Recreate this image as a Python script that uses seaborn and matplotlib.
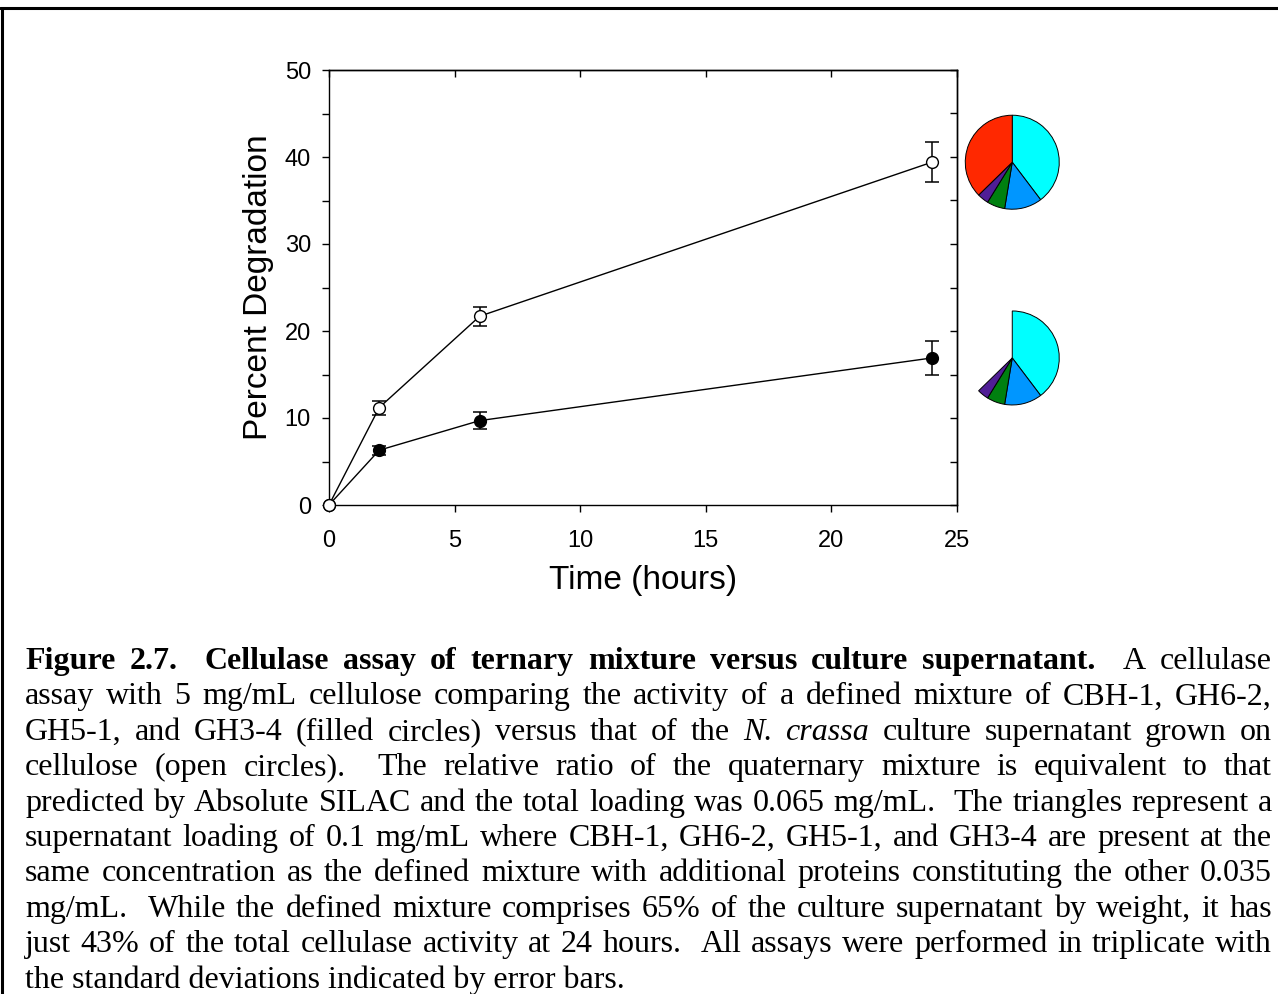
import matplotlib
matplotlib.use("Agg")
import matplotlib.pyplot as plt
from matplotlib.lines import Line2D
from matplotlib.ticker import MultipleLocator
from matplotlib.font_manager import FontProperties
import seaborn as sns

# Cellulose degradation over time (mean of triplicates, with standard deviations)
hours = [0, 2, 6, 24]
supernatant_pct = [0.0, 11.2, 21.7, 39.4]
supernatant_sd = [0.0, 0.8, 1.1, 2.3]
mixture_pct = [0.0, 6.3, 9.7, 16.9]
mixture_sd = [0.0, 0.5, 1.0, 2.0]

# Protein composition (percent of supernatant loading by weight)
enzymes = ["CBH-1", "GH6-2", "GH5-1", "GH3-4", "Other proteins"]
composition = [39.7, 12.9, 6.2, 3.9, 37.3]
enzyme_colors = ["#00FFFF", "#0096FF", "#008010", "#501E96", "#FF2800"]

x_ticks = [0, 5, 10, 15, 20, 25]
y_ticks = [0, 10, 20, 30, 40, 50]

caption_lines = [
    [("Figure 2.7.  Cellulase assay of ternary mixture versus culture supernatant.", "bold"),
     (" A cellulase", "normal")],
    [("assay with 5 mg/mL cellulose comparing the activity of a defined mixture of CBH-1, GH6-2,", "normal")],
    [("GH5-1, and GH3-4 (filled circles) versus that of the", "normal"), ("N. crassa", "italic"),
     ("culture supernatant grown on", "normal")],
    [("cellulose (open circles).  The relative ratio of the quaternary mixture is equivalent to that", "normal")],
    [("predicted by Absolute SILAC and the total loading was 0.065 mg/mL.  The triangles represent a", "normal")],
    [("supernatant loading of 0.1 mg/mL where CBH-1, GH6-2, GH5-1, and GH3-4 are present at the", "normal")],
    [("same concentration as the defined mixture with additional proteins constituting the other 0.035", "normal")],
    [("mg/mL.  While the defined mixture comprises 65% of the culture supernatant by weight, it has", "normal")],
    [("just 43% of the total cellulase activity at 24 hours.  All assays were performed in triplicate with", "normal")],
]
caption_last = "the standard deviations indicated by error bars."

sns.set_theme(style="ticks")
plt.rcParams["font.family"] = ["Liberation Sans", "DejaVu Sans"]
plt.rcParams["axes.edgecolor"] = "black"
plt.rcParams["axes.linewidth"] = 1.0

W, H = 1278, 994
fig = plt.figure(figsize=(W / 100, H / 100), dpi=100)
fig.patch.set_facecolor("white")

ax = fig.add_axes([329 / W, 1 - 505 / H, (957 - 329) / W, (505 - 70) / H])
ax.set_facecolor("white")

# error bars first so the markers sit on top of them
for pct, sd in ((mixture_pct, mixture_sd), (supernatant_pct, supernatant_sd)):
    xs = [h for h, s in zip(hours, sd) if s > 0]
    ys = [p for p, s in zip(pct, sd) if s > 0]
    es = [s for s in sd if s > 0]
    ax.errorbar(xs, ys, yerr=es, fmt="none", ecolor="black", elinewidth=1.1,
                capsize=5, capthick=1.1, zorder=2)

sns.lineplot(x=hours, y=mixture_pct, ax=ax, color="black", linewidth=1.0,
             marker="o", markersize=8.5, markerfacecolor="black",
             markeredgecolor="black", markeredgewidth=1.0, zorder=3, clip_on=False)
sns.lineplot(x=hours, y=supernatant_pct, ax=ax, color="black", linewidth=1.0,
             marker="o", markersize=8.5, markerfacecolor="white",
             markeredgecolor="black", markeredgewidth=1.0, zorder=4, clip_on=False)

ax.set_xlim(0, 25)
ax.set_ylim(0, 50)
ax.set_xticks(x_ticks)
ax.set_yticks(y_ticks)
ax.yaxis.set_minor_locator(MultipleLocator(5))
ax.tick_params(axis="both", which="both", direction="out", length=5, width=1.0,
               color="black", labelcolor="black", labelsize=17)
ax.tick_params(axis="x", pad=13)
ax.tick_params(axis="y", pad=8)
for sp in ax.spines.values():
    sp.set_visible(True)
    sp.set_color("black")
    sp.set_linewidth(1.0)

ax.set_xlabel("Time (hours)", fontsize=24, color="black", labelpad=9)
ax.set_ylabel("Percent Degradation", fontsize=24, color="black", labelpad=7.5)

# inward ticks on the top and right edges
top = ax.secondary_xaxis("top")
top.set_xticks(x_ticks)
top.tick_params(direction="in", length=5, width=1.0, color="black", labeltop=False)
right = ax.secondary_yaxis("right")
right.set_yticks(list(range(0, 51, 5)))
right.tick_params(direction="in", length=5, width=1.0, color="black", labelright=False)

# composition pies beside the 24 h points
def composition_pie(y_value, show_other):
    cx, cy = ax.transData.transform((27.2, y_value))
    r = 47
    pax = fig.add_axes([(cx - r) / W, (cy - r) / H, 2 * r / W, 2 * r / H])
    wedges, _ = pax.pie(composition, colors=enzyme_colors, startangle=90,
                        counterclock=False,
                        wedgeprops=dict(edgecolor="black", linewidth=0.7))
    for w in wedges:
        w.set_clip_on(False)
    if not show_other:
        wedges[-1].set_visible(False)
    pax.set_xlim(-1, 1)
    pax.set_ylim(-1, 1)
    pax.set_aspect("equal")
    pax.axis("off")

composition_pie(supernatant_pct[-1], True)
composition_pie(mixture_pct[-1], False)

# frame lines along the top and left of the figure
fig.add_artist(Line2D([1.5 / W, 1.5 / W], [0, 1 - 8.3 / H], transform=fig.transFigure,
                      color="black", linewidth=2.2))
fig.add_artist(Line2D([0, 1], [1 - 8.3 / H, 1 - 8.3 / H], transform=fig.transFigure,
                      color="black", linewidth=2.2))

# justified caption
cap_size = 23
styles = {
    "normal": FontProperties(family="Liberation Serif", size=cap_size),
    "bold": FontProperties(family="Liberation Serif", size=cap_size, weight="bold"),
    "italic": FontProperties(family="Liberation Serif", size=cap_size, style="italic"),
}
renderer = fig.canvas.get_renderer()
left_px, right_px = 25, 1272
first_baseline, line_step = 669, 35.4

for i, runs in enumerate(caption_lines):
    tokens = []
    for text, style in runs:
        for word in text.split(" "):
            tokens.append((word, style))
    y = 1 - (first_baseline + i * line_step) / H
    artists = []
    widths = []
    for word, style in tokens:
        t = fig.text(0, y, word, fontproperties=styles[style], color="black",
                     ha="left", va="baseline")
        artists.append(t)
        widths.append(t.get_window_extent(renderer).width if word else 0.0)
    gap = (right_px - left_px - sum(widths)) / (len(tokens) - 1)
    x = left_px
    for t, w in zip(artists, widths):
        t.set_x(x / W)
        x += w + gap

fig.text(left_px / W, 1 - (first_baseline + len(caption_lines) * line_step) / H,
         caption_last, fontproperties=styles["normal"], color="black",
         ha="left", va="baseline")

fig.savefig("out.png", dpi=100, facecolor="white")
